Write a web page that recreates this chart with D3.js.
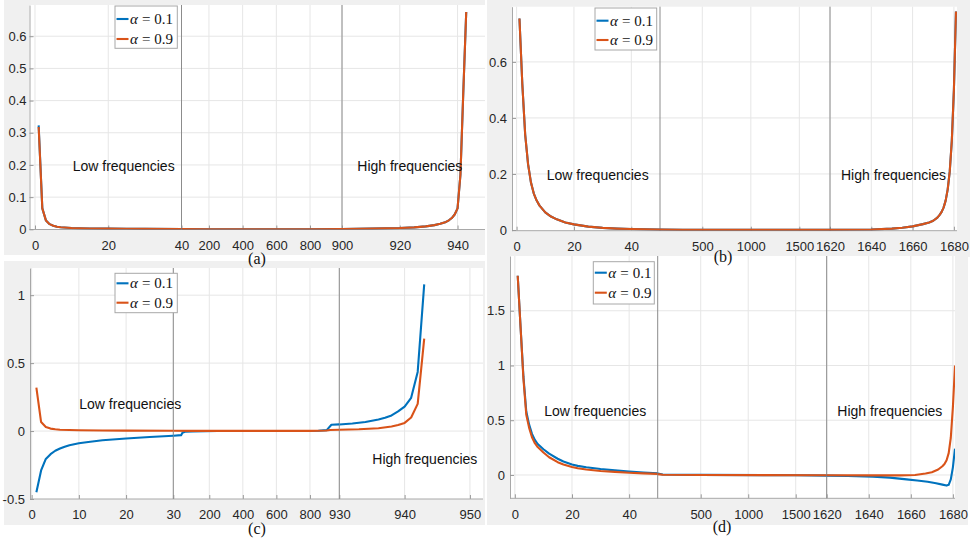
<!DOCTYPE html>
<html>
<head>
<meta charset="utf-8">
<script src="https://cdn.jsdelivr.net/npm/d3@7"></script>
<style>
  body { margin: 0; background: #fff; }
  svg { display: block; }
</style>
</head>
<body>
<script>
// ---------- series: [node index, coefficient] ----------
// (a) 943 nodes
const aLow01  = [[1,0.323],[2,0.065],[3,0.027],[4,0.016],[5,0.011],[6,0.008],[7,0.0065],[8,0.0055],[10,0.004],[12,0.0033],[15,0.0026],[20,0.002],[25,0.0016],[30,0.0013],[40,0.001]];
const aLow09  = [[1,0.318],[2,0.065],[3,0.027],[4,0.016],[5,0.011],[6,0.008],[7,0.0065],[8,0.0055],[10,0.004],[12,0.0033],[15,0.0026],[20,0.002],[25,0.0016],[30,0.0013],[40,0.001]];
const aMid01  = [[37,0.001],[200,0.0004],[800,0.0004],[990,0.001]];
const aMid09  = [[37,0.001],[200,0.0004],[800,0.0004],[990,0.001]];
const aHigh01 = [[900,0.001],[910,0.002],[920,0.004],[925,0.006],[929,0.009],[932,0.013],[934,0.017],[936,0.023],[937,0.028],[938,0.035],[939,0.046],[940,0.065],[941,0.17],[942,0.43],[943,0.675]];
const aHigh09 = [[900,0.001],[910,0.002],[920,0.004],[925,0.006],[929,0.009],[932,0.013],[934,0.017],[936,0.023],[937,0.028],[938,0.035],[939,0.046],[940,0.065],[941,0.17],[942,0.43],[943,0.675]];

// (b) 1681 nodes
const bLow01  = [[1,0.755],[2,0.52],[3,0.34],[4,0.235],[5,0.17],[6,0.13],[7,0.105],[8,0.087],[10,0.063],[12,0.048],[14,0.038],[17,0.027],[20,0.02],[25,0.012],[30,0.0075],[35,0.005],[40,0.0035],[50,0.002]];
const bLow09  = [[1,0.755],[2,0.52],[3,0.34],[4,0.235],[5,0.17],[6,0.13],[7,0.105],[8,0.087],[10,0.063],[12,0.048],[14,0.038],[17,0.027],[20,0.02],[25,0.012],[30,0.0075],[35,0.005],[40,0.0035],[50,0.002]];
const bMid01  = [[64,0.002],[300,0.001],[1500,0.001],[1816,0.001]];
const bMid09  = [[64,0.002],[300,0.001],[1500,0.001],[1816,0.001]];
const bHigh01 = [[1620,0.001],[1640,0.002],[1650,0.005],[1655,0.008],[1660,0.013],[1665,0.021],[1668,0.027],[1670,0.033],[1672,0.044],[1673,0.053],[1674,0.064],[1675,0.08],[1676,0.105],[1677,0.145],[1678,0.21],[1679,0.32],[1680,0.5],[1681,0.78]];
const bHigh09 = [[1620,0.001],[1640,0.002],[1650,0.005],[1655,0.008],[1660,0.013],[1665,0.021],[1668,0.027],[1670,0.033],[1672,0.044],[1673,0.053],[1674,0.064],[1675,0.08],[1676,0.105],[1677,0.145],[1678,0.21],[1679,0.32],[1680,0.5],[1681,0.78]];

// (c) 943 nodes
const cLow01  = [[1,-0.45],[2,-0.29],[3,-0.205],[4,-0.17],[5,-0.145],[6,-0.128],[7,-0.115],[8,-0.104],[10,-0.09],[12,-0.08],[15,-0.068],[20,-0.055],[25,-0.044],[30,-0.034]];
const cLow09  = [[1,0.32],[2,0.066],[3,0.03],[4,0.018],[5,0.013],[6,0.01],[8,0.008],[10,0.006],[15,0.004],[20,0.003],[30,0.002]];
const cMid01  = [[-14.5,-0.034],[32,-0.03],[40,-0.012],[55,-0.005],[100,-0.002],[250,0],[850,0.002],[900,0.007],[928,0.046],[975,0.049]];
const cMid09  = [[-14.5,0.002],[100,0.001],[800,0.001],[900,0.004],[920,0.008],[975,0.01]];
const cHigh01 = [[930,0.048],[932,0.056],[934,0.067],[936,0.085],[937,0.098],[938,0.115],[939,0.145],[940,0.18],[941,0.245],[942,0.435],[943,1.08]];
const cHigh09 = [[930,0.01],[933,0.013],[936,0.021],[938,0.033],[939,0.044],[940,0.06],[941,0.1],[942,0.2],[943,0.68]];

// (d) 1681 nodes
const dLow01  = [[1,1.82],[2,1.35],[3,0.9],[4,0.58],[5,0.46],[6,0.375],[7,0.32],[8,0.283],[10,0.235],[12,0.195],[15,0.148],[17,0.123],[20,0.095],[22,0.083],[25,0.07],[30,0.054],[35,0.042],[40,0.031],[45,0.022],[50,0.015]];
const dLow09  = [[1,1.82],[2,1.35],[3,0.88],[4,0.55],[5,0.43],[6,0.345],[7,0.29],[8,0.255],[10,0.205],[12,0.162],[15,0.117],[17,0.096],[20,0.073],[22,0.062],[25,0.05],[30,0.037],[35,0.028],[40,0.021],[45,0.015],[50,0.01]];
const dMid01  = [[47,0.014],[100,0.004],[500,0.001],[1500,-0.002],[1826,-0.006]];
const dMid09  = [[47,0.008],[100,0.002],[500,0],[1826,-0.003]];
const dHigh01 = [[1620,-0.006],[1630,-0.009],[1642,-0.015],[1650,-0.024],[1658,-0.04],[1663,-0.05],[1668,-0.062],[1672,-0.075],[1675,-0.088],[1677,-0.097],[1678,-0.09],[1679,-0.04],[1680,0.07],[1681,0.24]];
const dHigh09 = [[1620,-0.003],[1640,-0.004],[1655,-0.004],[1662,0],[1667,0.013],[1670,0.025],[1673,0.05],[1675,0.08],[1676,0.1],[1677,0.135],[1678,0.2],[1679,0.34],[1680,0.62],[1681,1.0]];

// ---------- ticks and texts ----------
const aYTicks = [0,0.1,0.2,0.3,0.4,0.5,0.6];
const aXTicksLow = [0,20,40], aXTicksMid = [200,400,600,800], aXTicksHigh = [900,920,940];
const bYTicks = [0,0.2,0.4,0.6];
const bXTicksLow = [0,20,40], bXTicksMid = [500,1000,1500], bXTicksHigh = [1620,1640,1660,1680];
const cYTicks = [-0.5,0,0.5,1];
const cXTicksLow = [0,10,20,30], cXTicksMid = [200,400,600,800], cXTicksHigh = [930,940,950];
const dYTicks = [0,0.5,1,1.5];
const dXTicksLow = [0,20,40], dXTicksMid = [500,1000,1500], dXTicksHigh = [1620,1640,1660,1680];

const alphaValues = ["0.1","0.9"];
const regionLabels = ["Low frequencies","High frequencies"];
const captions = ["(a)","(b)","(c)","(d)"];

const COLORS = ["#0072BD","#D95319"];
const SANS = "'Liberation Sans', Arial, sans-serif";
const SERIF = "'Liberation Serif', 'Times New Roman', serif";

const svg = d3.select("body").append("svg").attr("width",979).attr("height",544);
const defs = svg.append("defs");

// figure backgrounds
const bgRects = [[4,0,481,255],[4,261,481,264],[487,0,483,257],[487,257,481,268]];
svg.selectAll("rect.bg").data(bgRects).join("rect").attr("class","bg")
  .attr("x",d=>d[0]).attr("y",d=>d[1]).attr("width",d=>d[2]).attr("height",d=>d[3])
  .attr("fill","#f0f0f0");

const captionQueue = [];

function drawPanel(cfg) {
  const P = cfg.plot;
  const g = svg.append("g");
  g.append("rect").attr("x",P.l).attr("y",P.t).attr("width",P.r-P.l).attr("height",P.b-P.t).attr("fill","#fff");

  const y = d3.scaleLinear().domain(cfg.yLim).range([P.b,P.t]);
  const segs = cfg.segs.map(s => Object.assign({}, s, {x: d3.scaleLinear().domain(s.domain).range([s.x0,s.x1])}));

  // grid
  g.append("g").selectAll("line").data(cfg.yTicks.filter(v => y(v) < P.b-1)).join("line")
    .attr("x1",P.l).attr("x2",P.r).attr("y1",d=>y(d)).attr("y2",d=>y(d))
    .attr("stroke","#e6e6e6").attr("stroke-width",1);
  segs.forEach(s => {
    g.append("g").selectAll("line").data(s.ticks).join("line")
      .attr("x1",d=>s.x(d)).attr("x2",d=>s.x(d)).attr("y1",P.t).attr("y2",P.b)
      .attr("stroke","#e6e6e6").attr("stroke-width",1);
  });

  // x axes, one per segment
  segs.forEach(s => {
    const ax = g.append("g").attr("transform",`translate(0,${P.b})`)
      .call(d3.axisBottom(s.x).tickValues(s.ticks).tickSizeInner(-4).tickSizeOuter(0).tickPadding(11).tickFormat(d=>String(d)));
    ax.select(".domain").remove();
    ax.selectAll(".tick line").attr("stroke","#9a9a9a");
    ax.selectAll("text").attr("font-family",SANS).attr("font-size",13).attr("fill","#262626");
  });
  g.append("line").attr("x1",P.l).attr("x2",P.r).attr("y1",P.b).attr("y2",P.b).attr("stroke","#a8a8a8");

  // y axis
  const ay = g.append("g").attr("transform",`translate(${P.l},0)`)
    .call(d3.axisLeft(y).tickValues(cfg.yTicks).tickSizeInner(-4).tickSizeOuter(0).tickPadding(cfg.yPad).tickFormat(d=>String(d)));
  ay.select(".domain").attr("stroke","#a8a8a8");
  ay.selectAll(".tick line").attr("stroke","#9a9a9a");
  ay.selectAll("text").attr("font-family",SANS).attr("font-size",13).attr("fill","#262626");

  // segment separators
  segs.slice(1).forEach(s => {
    g.append("line").attr("x1",s.x0).attr("x2",s.x0).attr("y1",P.t).attr("y2",P.b)
      .attr("stroke","#8c8c8c").attr("stroke-width",1);
  });

  // curves
  segs.forEach((s,i) => {
    const id = `clip-${cfg.id}-${i}`;
    defs.append("clipPath").attr("id",id).append("rect")
      .attr("x",s.x0).attr("y",P.t).attr("width",s.x1-s.x0).attr("height",P.b-P.t);
    const line = d3.line().x(d=>s.x(d[0])).y(d=>y(d[1]));
    s.series.forEach((data,k) => {
      g.append("path").attr("clip-path",`url(#${id})`).attr("d",line(data))
        .attr("fill","none").attr("stroke",COLORS[k]).attr("stroke-width",2.1)
        .attr("stroke-linejoin","round").attr("stroke-linecap","butt");
    });
  });

  // region labels
  g.append("text").attr("x",cfg.low[0]).attr("y",cfg.low[1]).text(regionLabels[0])
    .attr("font-family",SANS).attr("font-size",14).attr("fill","#111");
  g.append("text").attr("x",cfg.high[0]).attr("y",cfg.high[1]).text(regionLabels[1])
    .attr("font-family",SANS).attr("font-size",14).attr("fill","#111");

  // legend
  const L = cfg.legend;
  g.append("rect").attr("x",L.x).attr("y",L.y).attr("width",L.w).attr("height",L.h)
    .attr("fill","#fff").attr("stroke","#a8a8a8").attr("stroke-width",1);
  alphaValues.forEach((v,k) => {
    const ly = L.rows[k];
    g.append("line").attr("x1",L.x+1.5).attr("x2",L.x+13.5).attr("y1",ly).attr("y2",ly)
      .attr("stroke",COLORS[k]).attr("stroke-width",2.1);
    const t = g.append("text").attr("x",L.x+15).attr("y",ly+5)
      .attr("font-family",SERIF).attr("font-size",15).attr("fill","#111");
    t.append("tspan").attr("font-style","italic").text("\u03b1");
    t.append("tspan").attr("dx",4).text("=");
    t.append("tspan").attr("dx",4).text(v);
  });

  captionQueue.push(cfg);
}

drawPanel({
  id:"a", plot:{l:29.5,r:485,t:5,b:229.5}, yLim:[-0.0006,0.697], yTicks:aYTicks, yPad:3,
  segs:[
    {domain:[-1.5,40], x0:29.5, x1:181.5, ticks:aXTicksLow,  series:[aLow01,aLow09]},
    {domain:[37,990],  x0:181.5, x1:342,  ticks:aXTicksMid,  series:[aMid01,aMid09]},
    {domain:[900,949.5], x0:342, x1:485,  ticks:aXTicksHigh, series:[aHigh01,aHigh09]}
  ],
  low:[72.7,170.7], high:[357.3,170.7],
  legend:{x:115,y:6,w:62.3,h:42.3,rows:[19,39]},
  cap:[257,264], capText:captions[0]
});

drawPanel({
  id:"b", plot:{l:512,r:957,t:6.7,b:230.7}, yLim:[-0.0025,0.797], yTicks:bYTicks, yPad:5,
  segs:[
    {domain:[-1.6,50],    x0:512, x1:660, ticks:bXTicksLow,  series:[bLow01,bLow09]},
    {domain:[64,1816],    x0:660, x1:830, ticks:bXTicksMid,  series:[bMid01,bMid09]},
    {domain:[1620,1681.5],x0:830, x1:957, ticks:bXTicksHigh, series:[bHigh01,bHigh09]}
  ],
  low:[546.7,180], high:[841,180],
  legend:{x:595,y:8,w:61.7,h:42,rows:[20.7,40]},
  cap:[723,262], capText:captions[1]
});

drawPanel({
  id:"c", plot:{l:30,r:483,t:268,b:499}, yLim:[-0.5,1.2], yTicks:cYTicks, yPad:5,
  segs:[
    {domain:[-0.35,30], x0:30,    x1:173.3, ticks:cXTicksLow,  series:[cLow01,cLow09]},
    {domain:[-14.5,975],x0:173.3, x1:339.3, ticks:cXTicksMid,  series:[cMid01,cMid09]},
    {domain:[930,952],  x0:339.3, x1:483,   ticks:cXTicksHigh, series:[cHigh01,cHigh09]}
  ],
  low:[79.3,409.3], high:[372.3,464],
  legend:{x:115,y:273.3,w:62.3,h:39.4,rows:[283.3,302.7]},
  cap:[257,534], capText:captions[2]
});

drawPanel({
  id:"d", plot:{l:510,r:955,t:256,b:498.3}, yLim:[-0.213,2.0], yTicks:dYTicks, yPad:5,
  segs:[
    {domain:[-1.7,50],   x0:510,   x1:657.7, ticks:dXTicksLow,  series:[dLow01,dLow09]},
    {domain:[47,1826],   x0:657.7, x1:826.7, ticks:dXTicksMid,  series:[dMid01,dMid09]},
    {domain:[1620,1681], x0:826.7, x1:955,   ticks:dXTicksHigh, series:[dHigh01,dHigh09]}
  ],
  low:[544.3,415.7], high:[837.3,415.7],
  legend:{x:593.3,y:261.7,w:61,h:42.3,rows:[272.7,292.7]},
  cap:[722,531.5], capText:captions[3]
});

// captions go on top of everything
captionQueue.forEach(cfg => {
  svg.append("text").attr("x",cfg.cap[0]).attr("y",cfg.cap[1]).attr("text-anchor","middle")
    .attr("font-family",SERIF).attr("font-size",16).attr("fill","#111").text(cfg.capText);
});
</script>
</body>
</html>
